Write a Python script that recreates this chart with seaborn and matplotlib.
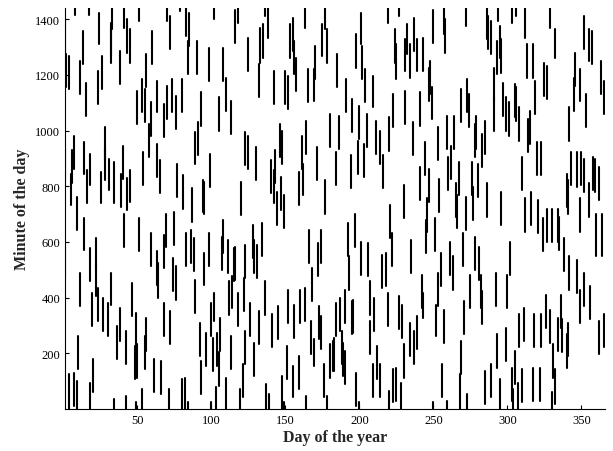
import matplotlib
matplotlib.use("Agg")
import matplotlib.pyplot as plt
import pandas as pd
import seaborn as sns

# Each entry: (day of year, start minute, end minute) of one activity interval
days_001_035 = [(8,1416,1440),(17,1416,1440),(24,1309,1422),(33,1363,1440),(1,1274,1399),(32,1268,1387),
    (32,1244,1363),(13,1238,1357),(2,1155,1274),(4,1149,1268),(11,1131,1250),(26,1149,1268),(23,1095,1214),
    (15,1053,1172),(28,893,1012),(1,821,940),(7,863,982),(6,810,929),(14,845,958),(28,821,940),(31,786,899),
    (18,804,917),(5,732,845),(16,738,857),(25,738,851),(34,738,887),(9,643,762),(14,572,685),(1,470,583),
    (22,500,613),(18,458,577),(22,405,524),(11,369,488),(32,375,488),(19,298,417),(23,316,435),(27,280,399),
    (30,262,381),(10,143,262),(20,60,179),(4,0,125),(7,12,131),(9,0,101),(18,0,95),(34,0,36)]

days_036_071 = [(41,1369,1440),(51,1393,1440),(70,1393,1440),(43,1280,1399),(45,1244,1363),(60,1238,1357),
    (38,1167,1286),(56,1155,1274),(53,1065,1184),(50,1024,1143),(55,1030,1149),(63,1065,1178),(59,982,1101),
    (70,1042,1161),(68,976,1095),(58,905,1024),(54,804,923),(63,833,952),(65,774,893),(40,827,946),
    (39,726,845),(43,714,830),(45,745,860),(41,583,702),(51,566,685),(59,512,631),(69,583,702),(68,506,625),
    (63,447,566),(64,399,524),(46,334,453),(38,244,363),(36,179,298),(49,226,345),(56,209,328),(68,262,381),
    (42,161,280),(48,107,226),(50,113,232),(55,143,262),(61,60,179),(66,54,173),(42,0,48),(49,0,24),
    (53,0,72),(71,0,72)]

days_072_108 = [(79,1430,1440),(83,1339,1440),(85,1303,1422),(102,1399,1440),(72,1291,1410),(84,1202,1321),
    (90,1202,1321),(98,1178,1297),(108,1178,1297),(73,1065,1184),(80,1065,1184),(76,1006,1125),(93,1018,1137),
    (105,1000,1119),(91,911,1030),(89,881,994),(99,798,917),(77,762,881),(81,720,839),(87,673,792),
    (94,708,821),(95,702,815),(75,589,708),(83,512,631),(86,524,643),(88,494,613),(108,560,679),(107,500,619),
    (98,512,631),(95,447,560),(74,423,542),(76,393,512),(89,345,464),(72,233,352),(92,191,310),(100,262,381),
    (102,316,417),(106,209,328),(96,155,274),(101,137,256),(104,155,274),(105,84,203),(93,54,173),(80,0,107),
    (82,0,113),(84,0,24),(100,0,24),(103,0,78)]

days_109_146 = [(116,1315,1434),(118,1387,1440),(136,1410,1440),(138,1333,1440),(135,1262,1381),(133,1244,1369),
    (125,1214,1333),(132,1119,1238),(142,1095,1214),(110,1071,1190),(113,988,1107),(146,905,1024),(123,875,994),
    (125,863,982),(130,821,940),(143,810,929),(140,774,893),(142,738,857),(144,661,780),(120,696,815),
    (128,542,661),(129,488,607),(131,470,589),(134,548,667),(111,488,607),(115,458,577),(116,464,583),
    (123,470,589),(112,339,458),(114,363,476),(118,298,417),(122,351,470),(136,339,458),(126,262,381),
    (132,233,352),(141,221,340),(145,250,369),(113,143,262),(123,161,280),(129,119,238),(121,42,161),
    (110,0,113),(119,0,72),(137,0,89),(139,0,54)]

days_147_183 = [(163,1369,1440),(177,1363,1440),(155,1286,1405),(153,1262,1381),(156,1202,1321),(157,1143,1262),
    (175,1268,1381),(178,1244,1363),(170,1184,1303),(169,1107,1220),(165,1101,1220),(150,1095,1214),
    (152,1077,1196),(180,940,1059),(148,881,1000),(164,917,1036),(161,863,982),(162,768,881),(171,821,940),
    (147,714,833),(149,649,768),(159,732,851),(177,702,821),(166,524,643),(174,524,643),(172,476,595),
    (168,387,506),(152,310,429),(160,310,429),(163,316,435),(156,256,375),(167,197,316),(173,250,369),
    (174,214,333),(169,155,250),(151,107,226),(159,72,191),(155,42,155),(148,0,119),(149,0,24),(164,0,48),
    (178,0,48),(176,42,161),(180,113,232),(182,137,244),(183,137,256)]

days_184_220 = [(219,1387,1440),(201,1309,1422),(198,1226,1345),(202,1184,1303),(185,1155,1274),(204,1101,1220),
    (209,1083,1196),(191,1065,1184),(195,994,1113),(200,970,1089),(186,934,1053),(205,940,1059),(211,917,1036),
    (214,881,1000),(220,928,1047),(184,804,923),(199,845,964),(203,833,952),(194,792,911),(216,792,911),
    (192,548,667),(197,583,702),(201,482,601),(206,476,595),(193,429,548),(215,435,554),(218,441,560),
    (207,339,458),(210,280,399),(219,298,417),(184,262,381),(187,280,399),(190,310,429),(195,268,387),
    (196,274,393),(188,161,280),(189,119,238),(190,89,208),(207,197,316),(212,107,226),(209,42,161),
    (214,42,161),(198,12,131),(200,0,24),(220,0,66)]

days_221_257 = [(227,1410,1440),(250,1315,1434),(257,1345,1440),(258,1280,1400),(224,1244,1363),(225,1184,1309),
    (232,1274,1381),(231,1214,1327),(234,1190,1309),(237,1286,1405),(239,1214,1327),(243,1214,1333),
    (248,1131,1250),(249,1042,1155),(247,1107,1226),(223,1012,1131),(231,1024,1143),(241,1018,1137),
    (236,911,1030),(253,893,1012),(244,839,958),(241,750,869),(247,744,863),(254,708,827),(230,685,804),
    (246,637,756),(245,560,679),(251,566,685),(221,613,732),(222,512,631),(235,488,607),(255,441,560),
    (242,363,482),(243,328,417),(253,369,488),(252,262,375),(257,238,357),(227,286,405),(229,256,375),
    (234,191,310),(237,161,280),(239,214,333),(230,113,232),(223,24,143),(225,30,149),(228,0,95),
    (256,42,161),(250,0,24)]

days_258_295 = [(272,1375,1440),(286,1327,1440),(287,1291,1410),(289,1274,1393),(294,1393,1440),(293,1202,1321),
    (291,1107,1226),(291,1000,1119),(273,1065,1184),(274,1012,1131),(269,1030,1149),(259,934,1053),
    (264,934,1053),(279,934,1053),(278,905,1024),(285,917,1036),(283,869,988),(262,827,946),(260,786,905),
    (267,768,887),(276,768,887),(280,762,881),(265,691,810),(266,649,768),(277,679,798),(272,643,762),
    (286,691,810),(270,512,631),(261,482,601),(263,429,548),(278,500,619),(281,464,583),(282,363,482),
    (283,304,423),(275,363,482),(292,369,488),(271,268,387),(269,125,244),(293,149,268),(289,42,161),
    (268,0,125),(285,18,137),(295,0,107),(273,0,54),(259,0,30)]

days_296_332 = [(303,1387,1440),(306,1410,1440),(312,1333,1440),(329,1369,1440),(332,1262,1363),(295,1262,1375),
    (296,1208,1327),(313,1190,1309),(317,1190,1309),(325,1125,1244),(327,1113,1232),(297,1053,1172),
    (299,1000,1119),(301,982,1101),(305,1048,1167),(306,1036,1155),(308,964,1083),(319,1059,1178),
    (315,952,1071),(314,922,1041),(320,839,958),(323,839,958),(310,786,905),(296,661,780),(312,637,756),
    (316,661,780),(321,631,750),(324,566,685),(327,601,720),(330,601,720),(302,482,601),(300,363,482),
    (326,292,411),(308,221,340),(311,244,363),(318,221,340),(323,221,340),(329,238,357),(299,173,292),
    (305,89,208),(331,113,232),(303,30,149),(304,0,72),(307,0,95),(310,24,143),(317,30,149),(322,30,149),
    (332,18,143),(330,0,60)]

days_333_365 = [(352,1291,1410),(355,1250,1363),(357,1238,1357),(346,1161,1280),(345,1071,1190),(349,1107,1220),
    (363,1131,1250),(365,1059,1178),(353,1012,1131),(342,964,1083),(343,804,923),(347,798,923),(350,804,923),
    (352,780,899),(358,786,905),(359,780,899),(362,750,869),(355,691,810),(340,726,845),(341,702,821),
    (349,637,756),(334,601,720),(335,571,690),(360,548,702),(364,548,702),(338,494,613),(342,429,548),
    (347,417,536),(352,369,488),(356,322,441),(349,310,429),(336,292,411),(334,209,328),(337,203,322),
    (340,149,268),(341,191,310),(362,197,316),(365,221,340)]

x_ticks = [50, 100, 150, 200, 250, 300, 350]
y_ticks = [200, 400, 600, 800, 1000, 1200, 1400]

blocks = [days_001_035, days_036_071, days_072_108, days_109_146, days_147_183,
          days_184_220, days_221_257, days_258_295, days_296_332, days_333_365]

rows = []
seg_id = 0
for blk in blocks:
    for d, s, e in blk:
        rows.append({"day": d, "minute": s, "seg": seg_id})
        rows.append({"day": d, "minute": e, "seg": seg_id})
        seg_id += 1
df = pd.DataFrame(rows)

sns.set_theme(style="ticks")
plt.rcParams["font.family"] = ["Liberation Serif", "DejaVu Serif"]
plt.rcParams["xtick.direction"] = "in"
plt.rcParams["ytick.direction"] = "in"

fig = plt.figure(figsize=(6.13, 4.52), dpi=100)
ax = fig.add_axes([65/613, 42/452, 540/613, 401/452])

sns.lineplot(data=df, x="day", y="minute", units="seg", estimator=None, sort=False,
             color="black", linewidth=1.5, legend=False, ax=ax)

ax.set_xlim(1, 366)
ax.set_ylim(0, 1440)
ax.set_xticks(x_ticks)
ax.set_yticks(y_ticks)
ax.tick_params(axis="both", labelsize=9, length=3, width=0.8, color="black", labelcolor="black")
ax.set_xlabel("Day of the year", fontsize=11.5, fontweight="bold", labelpad=2)
ax.set_ylabel("Minute of the day", fontsize=11.5, fontweight="bold", labelpad=4)
sns.despine(ax=ax)
for sp in ["left", "bottom"]:
    ax.spines[sp].set_color("black")
    ax.spines[sp].set_linewidth(0.8)

fig.savefig("out.png", dpi=100)
